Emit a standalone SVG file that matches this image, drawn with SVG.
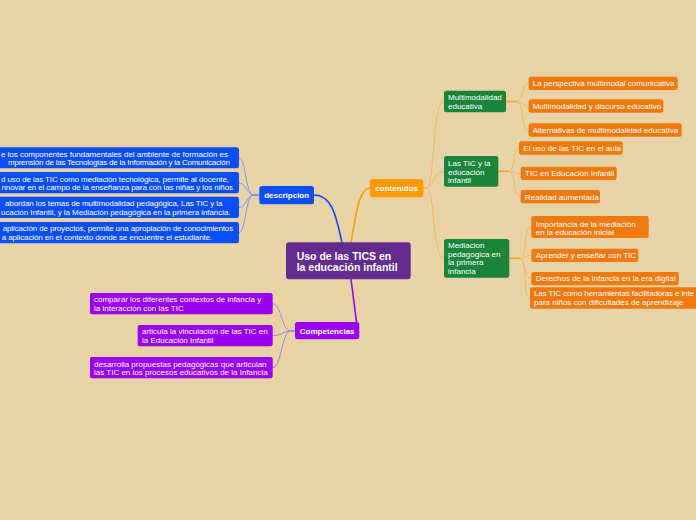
<svg xmlns="http://www.w3.org/2000/svg" width="696" height="520" viewBox="0 0 696 520">
<style>
text{font-family:"Liberation Sans",Arial,sans-serif;font-size:8px;fill:#fff}
.b{font-weight:bold}
.c{font-size:10.5px;font-weight:bold}
.mid{text-anchor:middle}
.blue{fill:#0b4ef5}
.org{fill:#f07a10}
.grn{fill:#19843a}
.pur{fill:#9a00f0}
.main{fill:none;stroke-width:1.6}
.sub{fill:none;stroke-width:1}
</style>
<rect x="0" y="0" width="696" height="520" fill="#e8d3a7"/>
<g id="connectors">
  <path class="main" stroke="#0b4ef5" d="M342 243 C336 214,331 195,314 195"/>
  <path class="main" stroke="#ff9a00" d="M351 243 C356 214,359 188,370 188"/>
  <path class="main" stroke="#9a00f0" d="M351 279 C353 295,355 310,356.5 322"/>
  <g class="sub" stroke="#7b96e6">
    <path d="M259.3 195 L253 195 C245 192,246 158,239 158"/>
    <path d="M259.3 195 L253 195 C246 193,246 183,239 183"/>
    <path d="M259.3 195 L253 195 C246 197,246 207.5,239 207.5"/>
    <path d="M259.3 195 L253 195 C245 198,246 232.5,239 232.5"/>
  </g>
  <g class="sub" stroke="#f4b85a">
    <path d="M423.3 188 L427 188 C435 185,432 101.5,444 101.5"/>
    <path d="M423.3 188 L427 188 C434 186,434 171.3,444 171.3"/>
    <path d="M423.3 188 L427 188 C435 191,432 258,444 258"/>
    <path d="M517 101.5 C524 100,521 83.3,528.7 83.3"/>
    <path d="M517 101.5 C524 102,522 106,528.7 106"/>
    <path d="M517 101.5 C524 103,521 130,528.7 130"/>
    <path d="M509 171.3 C516 170,512 148,519 148"/>
    <path d="M509 171.3 C516 172,513 173.3,520.7 173.3"/>
    <path d="M509 171.3 C516 173,513 196.7,520.7 196.7"/>
    <path d="M520 258.3 C528 256,523 227,531.3 227"/>
    <path d="M520 258.3 C527 258,524 255.3,531.3 255.3"/>
    <path d="M520 258.3 C527 260,524 278.7,531.3 278.7"/>
    <path d="M520 258.3 C528 261,522 298,530 298"/>
  </g>
  <g fill="none" stroke="#f7a21b" stroke-width="1.6">
    <path d="M506 101.5 L517 101.5"/>
    <path d="M498.3 171.3 L509 171.3"/>
    <path d="M509.3 258.3 L520 258.3"/>
  </g>
  <g class="sub" stroke="#b777e0">
    <path d="M295 331 L290 331 C282 330,281 303.7,272.7 303.7"/>
    <path d="M295 331 L290 331 C282 332,281 335.7,272.7 335.7"/>
    <path d="M295 331 L290 331 C282 333,281 367.7,272.7 367.7"/>
  </g>
</g>
<g id="central">
  <rect x="286" y="242.3" width="124.7" height="37" rx="3" fill="#652c8f"/>
  <text class="c" x="296.7" y="259.5">Uso de las TICS en</text>
  <text class="c" x="296.7" y="270.7">la educación infantil</text>
</g>
<g id="descripcion">
  <rect class="blue" x="259.3" y="186" width="54.7" height="18.3" rx="2.5"/>
  <text class="b mid" x="286.7" y="198">descripcion</text>
</g>
<g id="desc-1">
  <rect class="blue" x="-10" y="147.3" width="249" height="21" rx="2.5"/>
  <text x="1" y="156.5" textLength="227">e los componentes fundamentales del ambiente de formación es</text>
  <text x="8" y="165.2" textLength="222">mprensión de las Tecnologías de la Información y la Comunicación</text>
</g>
<g id="desc-2">
  <rect class="blue" x="-10" y="172" width="249" height="21.3" rx="2.5"/>
  <text x="1" y="181.5" textLength="228">d uso de las TIC como mediación tecnológica, permite al docente,</text>
  <text x="1.5" y="190.2" textLength="231.5">nnovar en el campo de la enseñanza para con las niñas y los niños</text>
</g>
<g id="desc-3">
  <rect class="blue" x="-10" y="196.7" width="249" height="21.3" rx="2.5"/>
  <text x="5" y="205.8" textLength="217.5">abordan los temas de multimodalidad pedagógica, Las TIC y la</text>
  <text x="1" y="214.5" textLength="229.5">ucación Infantil, y la Mediación pedagógica en la primera infancia.</text>
</g>
<g id="desc-4">
  <rect class="blue" x="-10" y="222" width="249" height="21.3" rx="2.5"/>
  <text x="2.7" y="231.2" textLength="230.5">aplicación de proyectos, permite una apropiación de conocimientos</text>
  <text x="1.7" y="240" textLength="210.5">a aplicación en el contexto donde se encuentre el estudiante.</text>
</g>
<g id="contenidos">
  <rect x="370" y="179" width="53.3" height="18.3" rx="2.5" fill="#ff9a00"/>
  <text class="b mid" x="396.7" y="191">contenidos</text>
</g>
<g id="multimodalidad">
  <rect class="grn" x="444" y="90.7" width="62" height="21.6" rx="2.5"/>
  <text x="448" y="100">Multimodalidad</text>
  <text x="448" y="108.5">educativa</text>
</g>
<g id="mm-1">
  <rect class="org" x="528.7" y="76.7" width="149" height="13.3" rx="2"/>
  <text x="532.7" y="86">La perspectiva multimodal comunicativa</text>
</g>
<g id="mm-2">
  <rect class="org" x="528.7" y="99.3" width="134.6" height="13.4" rx="2"/>
  <text x="532.7" y="108.7">Multimodalidad y discurso educativo</text>
</g>
<g id="mm-3">
  <rect class="org" x="528.7" y="123.3" width="153" height="13.4" rx="2"/>
  <text x="532.7" y="133.2">Alternativas de multimodalidad educativa</text>
</g>
<g id="tic-ed">
  <rect class="grn" x="444" y="156" width="54.3" height="30.7" rx="2.5"/>
  <text x="448" y="166">Las TIC y la</text>
  <text x="448" y="174.5">educación</text>
  <text x="448" y="183">infantil</text>
</g>
<g id="tic-1">
  <rect class="org" x="519" y="141.3" width="103.7" height="13.4" rx="2"/>
  <text x="523.3" y="150.8">El uso de las TIC en el aula</text>
</g>
<g id="tic-2">
  <rect class="org" x="520.7" y="166.7" width="96" height="13.3" rx="2"/>
  <text x="525" y="176.2">TIC en Educación Infantil</text>
</g>
<g id="tic-3">
  <rect class="org" x="520.7" y="190" width="79.3" height="13.3" rx="2"/>
  <text x="525" y="199.5">Realidad aumentada</text>
</g>
<g id="mediacion">
  <rect class="grn" x="444" y="239" width="65.3" height="38.7" rx="2.5"/>
  <text x="448" y="248">Mediacion</text>
  <text x="448" y="256.6">pedagogica en</text>
  <text x="448" y="265.3">la primera</text>
  <text x="448" y="274">infancia</text>
</g>
<g id="med-1">
  <rect class="org" x="531.3" y="216" width="117.4" height="22" rx="2"/>
  <text x="535.7" y="226.5">Importancia de la mediación</text>
  <text x="535.7" y="235">en la educación inicial</text>
</g>
<g id="med-2">
  <rect class="org" x="531.3" y="248.7" width="107" height="13.3" rx="2"/>
  <text x="535.7" y="258.3">Aprender y enseñar con TIC</text>
</g>
<g id="med-3">
  <rect class="org" x="531.3" y="272" width="147.4" height="13.3" rx="2"/>
  <text x="535.7" y="281.4">Derechos de la infancia en la era digital</text>
</g>
<g id="med-4">
  <rect class="org" x="530" y="287.3" width="180" height="21.4" rx="2"/>
  <text x="534" y="296.2" textLength="160">Las TIC como herramientas facilitadoras e inte</text>
  <text x="534" y="305">para niños con dificultades de aprendizaje</text>
</g>
<g id="competencias">
  <rect class="pur" x="295" y="322" width="64.3" height="17.3" rx="2.5"/>
  <text class="b mid" x="327.2" y="333.5">Competencias</text>
</g>
<g id="comp-1">
  <rect class="pur" x="90" y="293" width="182.7" height="21.3" rx="2"/>
  <text x="94" y="302.2">comparar los diferentes contextos de infancia y</text>
  <text x="94" y="311">la interacción con las TIC</text>
</g>
<g id="comp-2">
  <rect class="pur" x="137.7" y="325" width="135" height="21.3" rx="2"/>
  <text x="142" y="334.3">articula la vinculación de las TIC en</text>
  <text x="142" y="343">la Educación Infantil</text>
</g>
<g id="comp-3">
  <rect class="pur" x="90" y="357" width="182.7" height="21.3" rx="2"/>
  <text x="94" y="366.5">desarrolla propuestas pedagógicas que articulan</text>
  <text x="94" y="375.2">las TIC en los procesos educativos de la Infancia</text>
</g>
</svg>
